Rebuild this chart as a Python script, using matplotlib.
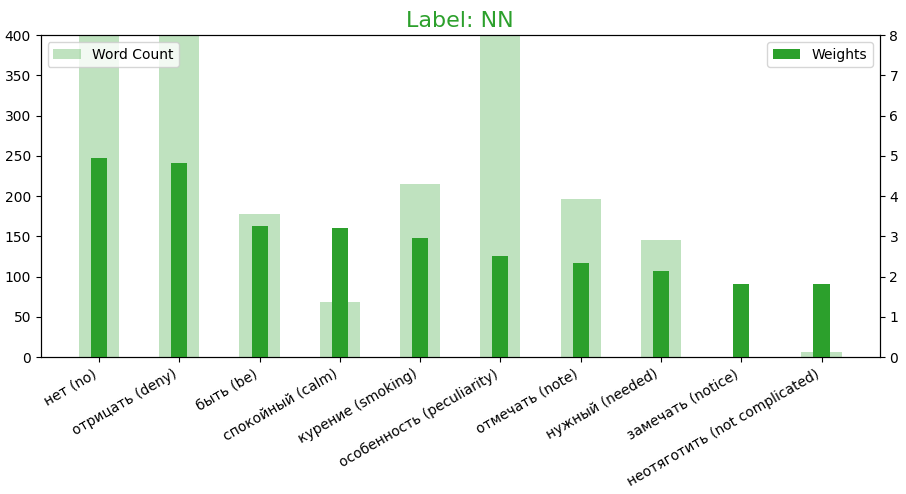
import matplotlib
matplotlib.use("Agg")
import matplotlib.pyplot as plt
import numpy as np

words = ['нет (no)', 'отрицать (deny)', 'быть (be)', 'спокойный (calm)',
         'курение (smoking)', 'особенность (peculiarity)', 'отмечать (note)',
         'нужный (needed)', 'замечать (notice)', 'неотяготить (not complicated)']
# первые и шестое значения выходят за предел оси (обрезаны на 400)
word_counts = [460, 450, 178, 69, 215, 470, 196, 145, 0, 6]
weights = [4.95, 4.82, 3.26, 3.22, 2.97, 2.52, 2.34, 2.13, 1.82, 1.82]

fig, ax = plt.subplots(figsize=(9.06, 4.94), dpi=100)
x = np.arange(len(words))

ax.bar(x, word_counts, width=0.5, color='tab:green', alpha=0.3, label='Word Count')
ax.set_ylim(0, 400)
ax.set_xticks(x)
ax.set_xticklabels(words, rotation=30, ha='right')
ax.legend(loc='upper left')

ax2 = ax.twinx()
ax2.bar(x, weights, width=0.2, color='tab:green', label='Weights')
ax2.set_ylim(0, 8)
ax2.legend(loc='upper right')

ax.set_title('Label: NN', color='tab:green', fontsize=16)

fig.subplots_adjust(left=0.045, right=0.971, bottom=0.277, top=0.929)
fig.savefig('out.png', dpi=100)
